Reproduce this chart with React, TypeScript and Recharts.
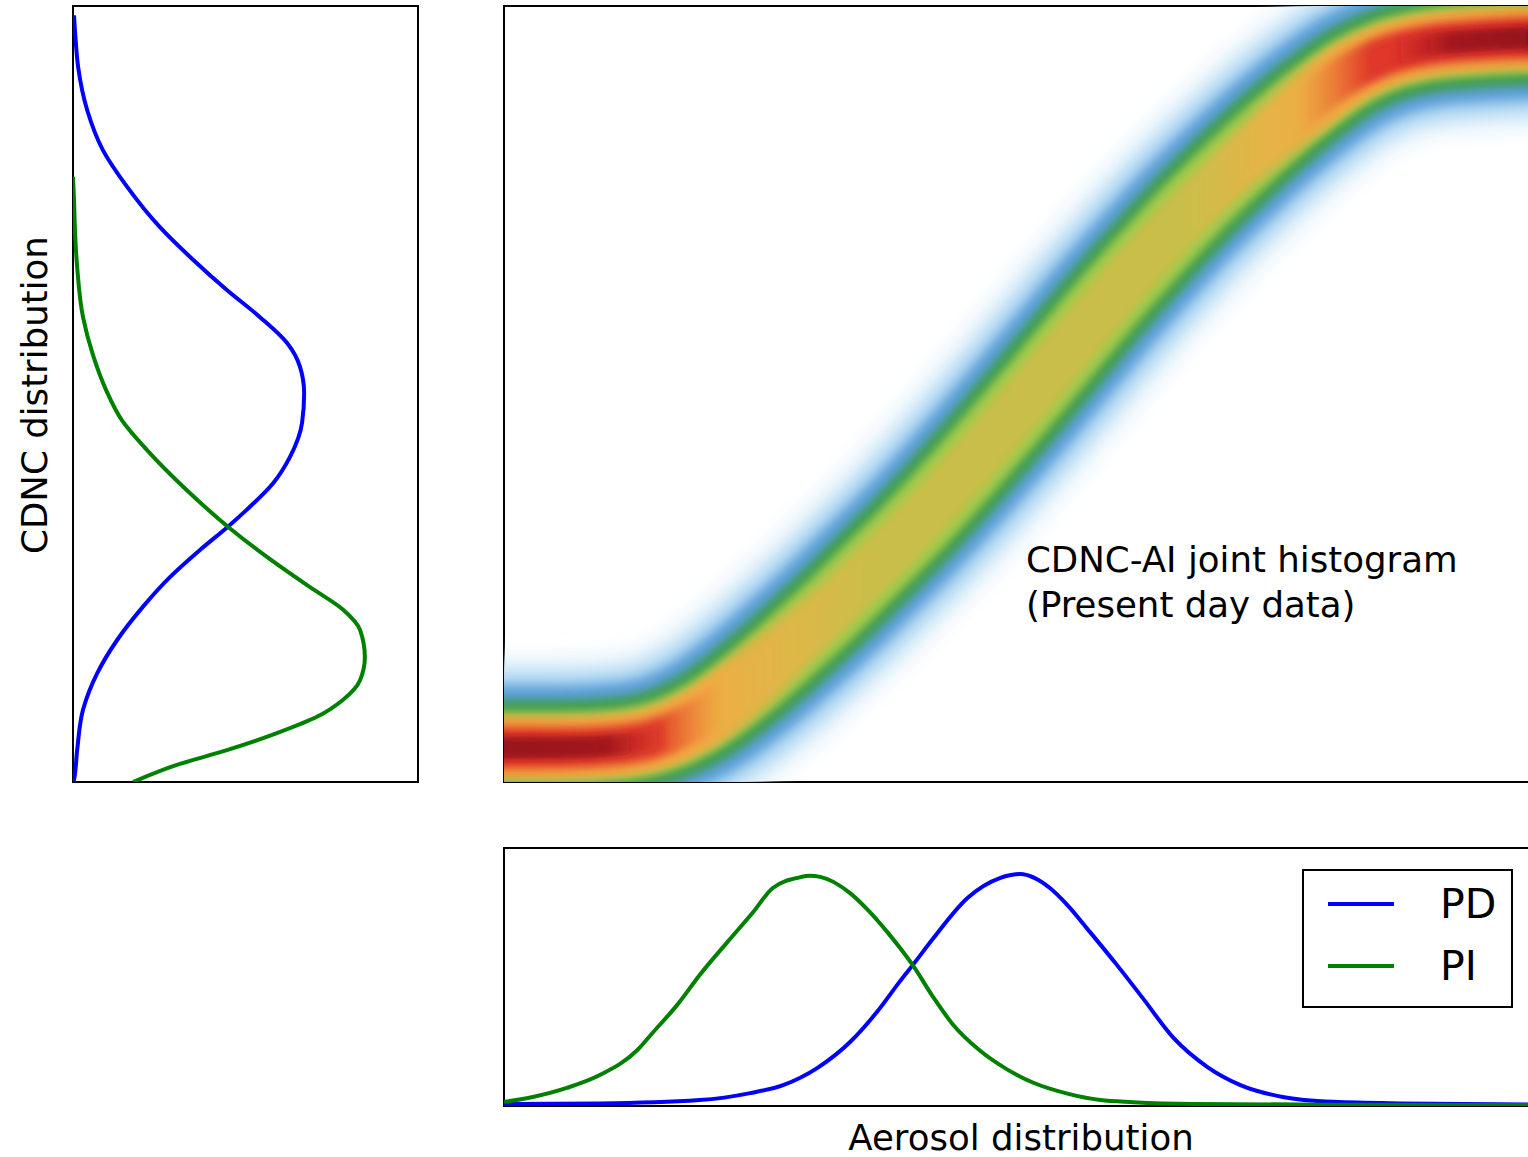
import React from 'react';
import {
  ComposedChart,
  Line,
  XAxis,
  YAxis,
  ReferenceArea,
  ScatterChart,
  Scatter,
  Legend,
} from 'recharts';

// ---------- CDNC marginal distributions (left panel) ----------
const pdCdnc = [98.8, 96, 92.1, 86.6, 81.4, 76.7, 71.5, 67.3, 63.4, 59.9, 56.6, 53.5, 50.1, 46.3, 41.9, 38.5, 35.1, 32.9, 29.9, 26.4, 22.6, 18.3, 14.0, 9.3, 4.1, 0.3, 0];
const pdCdncDensity = [0.3, 0.7, 1.5, 4.1, 8.7, 15.7, 25.2, 34.8, 44.6, 54.2, 62.0, 65.8, 67.0, 66.4, 62.9, 58.0, 50.4, 44.9, 36.8, 28.1, 20.3, 12.8, 7.0, 2.9, 1.2, 0.3, 0];
const piCdnc = [78, 75, 70.7, 66.4, 59.9, 55.0, 50.5, 46.6, 42.8, 37.6, 32.9, 29.0, 25.1, 22.2, 19.6, 16.1, 13.1, 10.6, 8.4, 6.3, 4.1, 2.2, 0];
const piCdncDensity = [0, 0.3, 0.6, 1.2, 2.9, 5.8, 9.6, 14.2, 21.4, 33.0, 44.9, 56.2, 68.7, 78.3, 83.2, 84.6, 83.2, 78.3, 70.7, 59.1, 44.6, 30.1, 17.4];

// ---------- Aerosol marginal distributions (bottom panel) ----------
const pdAerosol = [0, 9.3, 19.0, 23.9, 27.1, 30.4, 33.6, 36.2, 38.4, 39.7, 41.7, 45.0, 48.2, 50.1, 53.0, 54.7, 56.9, 59.5, 62.0, 65.0, 68.3, 71.5, 75.6, 80.5, 87.0, 104];
const pdAerosolDensity = [0.8, 1.0, 2.3, 5.0, 8.1, 14.7, 24.8, 36.4, 48.1, 54.7, 65.1, 80.6, 88.4, 89.9, 84.5, 77.9, 67.4, 54.7, 41.9, 26.4, 15.1, 8.1, 3.5, 1.6, 1.0, 0.5];
const piAerosol = [0, 2.8, 6.1, 9.3, 12.9, 14.5, 16.8, 19.0, 21.7, 24.2, 26.1, 28.7, 29.7, 30.7, 33.6, 35.2, 37.2, 38.4, 39.7, 41.7, 43.6, 46.2, 48.8, 51.4, 54.7, 57.9, 61.1, 67, 80, 104];
const piAerosolDensity = [1.6, 3.5, 7.0, 12.0, 21.5, 28.7, 39.1, 50.8, 63.6, 75.2, 84.5, 88.6, 89.2, 88.8, 82.5, 76.5, 67.5, 61.5, 54.5, 42.0, 31.5, 21.5, 14.3, 9.0, 4.8, 2.3, 1.5, 0.8, 0.5, 0.4];

// ---------- Joint histogram ridge (main panel) ----------
const heatAerosol = [-8, 0, 5.4, 11.3, 16.1, 20.0, 23.9, 27.8, 31.7, 35.5, 39.4, 43.3, 47.2, 51.1, 55.0, 58.8, 62.7, 66.6, 70.5, 74.4, 78.3, 82.1, 86.0, 89.9, 94.8, 100.6, 108];
const heatCdncPeak = [4.4, 4.4, 4.4, 4.8, 6.3, 9.0, 12.9, 17.4, 22.2, 27.2, 32.4, 38.0, 43.9, 50.0, 56.2, 62.2, 68.0, 73.6, 78.7, 83.5, 87.8, 91.4, 93.8, 95.0, 95.6, 95.9, 95.9];

// ---------- Labels ----------
const seriesNames = ['PD', 'PI'];
const seriesColors = ['#0000ff', '#008000'];
const annotationLines = ['CDNC-AI joint histogram', '(Present day data)'];
const yTitle = 'CDNC distribution';
const xTitle = 'Aerosol distribution';

const FONT = '"DejaVu Sans", Verdana, sans-serif';

const zip = (xs: number[], ys: number[]) => xs.map((x, i) => ({ x, y: ys[i] }));
const leftPD = zip(pdCdncDensity, pdCdnc);
const leftPI = zip(piCdncDensity, piCdnc);
const bottomPD = zip(pdAerosol, pdAerosolDensity);
const bottomPI = zip(piAerosol, piAerosolDensity);
const heatData = heatAerosol.map((a, i) => ({ a, c: heatCdncPeak[i] }));

// colour layers of the histogram ridge, outermost first
const bandLayers = [
  { w: 182, stroke: '#e4f2fb', blur: 'hb10' },
  { w: 152, stroke: '#acd6f1', blur: 'hb8' },
  { w: 124, stroke: '#5a9ed8', blur: 'hb6' },
  { w: 96, stroke: '#3f9d4f', blur: 'hb5' },
  { w: 72, stroke: '#9fca4b', blur: 'hb4' },
  { w: 62, stroke: 'url(#endOrangeGrad)', blur: 'hb4' },
  { w: 50, stroke: 'url(#coreGrad)', blur: 'hb4' },
  { w: 40, stroke: 'url(#redGrad)', blur: 'hb4' },
  { w: 22, stroke: 'url(#darkGrad)', blur: 'hb3' },
];

const NoDot = () => null;

const renderLegend = (props: any) => {
  const payload = props && props.payload && props.payload.length ? props.payload : [];
  const items = seriesNames.map((n, i) => {
    const p = payload.find((e: any) => e.value === n);
    return { name: n, color: (p && p.color) || seriesColors[i] };
  });
  return (
    <svg width={211} height={139} style={{ display: 'block' }}>
      <rect x={1} y={1} width={209} height={137} fill="#fff" stroke="#000" strokeWidth={2} />
      {items.map((it, i) => (
        <g key={it.name}>
          <line x1={26} x2={92} y1={35 + i * 62} y2={35 + i * 62} stroke={it.color} strokeWidth={4} />
          <text x={138} y={49 + i * 62} fontSize={41} fontFamily={FONT} fill="#000">
            {it.name}
          </text>
        </g>
      ))}
    </svg>
  );
};

export default function App() {
  const css = bandLayers
    .map((l, i) => `.hm-${i} .recharts-line-curve{filter:url(#${l.blur});}`)
    .join('\n');
  return (
    <div
      style={{
        position: 'fixed',
        left: 0,
        top: 0,
        width: 1528,
        height: 1157,
        overflow: 'hidden',
        background: '#fff',
      }}
    >
      <style>{css}</style>
      <svg width={0} height={0} style={{ position: 'absolute', left: 0, top: 0 }}>
        <defs>
          <linearGradient id="endOrangeGrad" gradientUnits="userSpaceOnUse" x1={504} y1={0} x2={1534} y2={0}>
            <stop offset={0} stopColor="#f0a23e" stopOpacity={1} />
            <stop offset={0.2} stopColor="#f2aa42" stopOpacity={1} />
            <stop offset={0.3} stopColor="#f2aa42" stopOpacity={0} />
            <stop offset={0.72} stopColor="#f2aa42" stopOpacity={0} />
            <stop offset={0.8} stopColor="#f2aa42" stopOpacity={1} />
            <stop offset={1} stopColor="#f0a23e" stopOpacity={1} />
          </linearGradient>
          <linearGradient id="coreGrad" gradientUnits="userSpaceOnUse" x1={504} y1={0} x2={1534} y2={0}>
            <stop offset={0} stopColor="#ef9a3c" />
            <stop offset={0.18} stopColor="#f3aa44" />
            <stop offset={0.28} stopColor="#deb747" />
            <stop offset={0.36} stopColor="#c9be4a" />
            <stop offset={0.66} stopColor="#c9be4a" />
            <stop offset={0.74} stopColor="#e6b346" />
            <stop offset={0.82} stopColor="#f3a842" />
            <stop offset={1} stopColor="#ef9a3c" />
          </linearGradient>
          <linearGradient id="redGrad" gradientUnits="userSpaceOnUse" x1={504} y1={0} x2={1534} y2={0}>
            <stop offset={0} stopColor="#df3327" stopOpacity={1} />
            <stop offset={0.15} stopColor="#e2412a" stopOpacity={1} />
            <stop offset={0.21} stopColor="#ea6a30" stopOpacity={0} />
            <stop offset={0.77} stopColor="#ea6a30" stopOpacity={0} />
            <stop offset={0.84} stopColor="#e0392a" stopOpacity={1} />
            <stop offset={1} stopColor="#d62a28" stopOpacity={1} />
          </linearGradient>
          <linearGradient id="darkGrad" gradientUnits="userSpaceOnUse" x1={504} y1={0} x2={1534} y2={0}>
            <stop offset={0} stopColor="#97121a" stopOpacity={1} />
            <stop offset={0.1} stopColor="#a3161c" stopOpacity={1} />
            <stop offset={0.16} stopColor="#c01c20" stopOpacity={0} />
            <stop offset={0.86} stopColor="#c01c20" stopOpacity={0} />
            <stop offset={0.92} stopColor="#a3161c" stopOpacity={1} />
            <stop offset={1} stopColor="#93111a" stopOpacity={1} />
          </linearGradient>
          {[3, 4, 5, 6, 8, 10].map((s) => (
            <filter key={s} id={`hb${s}`} filterUnits="userSpaceOnUse" x={-400} y={-400} width={2600} height={1800}>
              <feGaussianBlur stdDeviation={s} />
            </filter>
          ))}
        </defs>
      </svg>

      {/* Left panel: CDNC distribution */}
      <div style={{ position: 'absolute', left: 0, top: 0 }}>
        <ScatterChart width={430} height={790} margin={{ top: 6, right: 12, bottom: 8, left: 73 }}>
          <XAxis type="number" dataKey="x" domain={[0, 100]} allowDataOverflow hide />
          <YAxis type="number" dataKey="y" domain={[0, 100]} allowDataOverflow hide />
          <Scatter
            name={seriesNames[0]}
            data={leftPD}
            fill={seriesColors[0]}
            line={{ stroke: seriesColors[0], strokeWidth: 4 }}
            lineType="joint"
            lineJointType="monotoneY"
            shape={NoDot}
            isAnimationActive={false}
          />
          <Scatter
            name={seriesNames[1]}
            data={leftPI}
            fill={seriesColors[1]}
            line={{ stroke: seriesColors[1], strokeWidth: 4 }}
            lineType="joint"
            lineJointType="monotoneY"
            shape={NoDot}
            isAnimationActive={false}
          />
          <ReferenceArea x1={0} x2={100} y1={0} y2={100} fill="none" stroke="#000" strokeWidth={2} ifOverflow="visible" />
        </ScatterChart>
      </div>

      {/* Main panel: joint histogram */}
      <div style={{ position: 'absolute', left: 0, top: 0 }}>
        <ComposedChart width={1560} height={790} data={heatData} margin={{ top: 6, right: 26, bottom: 8, left: 504 }}>
          <XAxis type="number" dataKey="a" domain={[0, 100]} allowDataOverflow hide />
          <YAxis type="number" domain={[0, 100]} allowDataOverflow hide />
          {bandLayers.map((l, i) => (
            <Line
              key={i}
              className={`hm-${i}`}
              dataKey="c"
              type="monotone"
              stroke={l.stroke}
              strokeWidth={l.w}
              dot={false}
              activeDot={false}
              legendType="none"
              isAnimationActive={false}
            />
          ))}
          <ReferenceArea x1={0} x2={100} y1={0} y2={100} fill="none" stroke="#000" strokeWidth={2} ifOverflow="visible" />
        </ComposedChart>
      </div>

      {/* Bottom panel: aerosol distribution */}
      <div style={{ position: 'absolute', left: 0, top: 840 }}>
        <ScatterChart width={1560} height={317} margin={{ top: 8, right: 26, bottom: 51, left: 504 }}>
          <XAxis type="number" dataKey="x" domain={[0, 100]} allowDataOverflow hide />
          <YAxis type="number" dataKey="y" domain={[0, 100]} allowDataOverflow hide />
          <Scatter
            name={seriesNames[0]}
            data={bottomPD}
            fill={seriesColors[0]}
            line={{ stroke: seriesColors[0], strokeWidth: 4 }}
            lineType="joint"
            lineJointType="monotoneX"
            shape={NoDot}
            isAnimationActive={false}
          />
          <Scatter
            name={seriesNames[1]}
            data={bottomPI}
            fill={seriesColors[1]}
            line={{ stroke: seriesColors[1], strokeWidth: 4 }}
            lineType="joint"
            lineJointType="monotoneX"
            shape={NoDot}
            isAnimationActive={false}
          />
          <ReferenceArea x1={0} x2={100} y1={0} y2={100} fill="none" stroke="#000" strokeWidth={2} ifOverflow="visible" />
          <Legend
            layout="horizontal"
            verticalAlign="middle"
            align="center"
            content={renderLegend}
            wrapperStyle={{ position: 'absolute', left: 1302, top: 29, width: 211, height: 139, margin: 0, padding: 0 }}
          />
        </ScatterChart>
      </div>

      {/* Text overlay */}
      <svg
        width={1528}
        height={1157}
        style={{ position: 'absolute', left: 0, top: 0, pointerEvents: 'none' }}
      >
        <text
          transform="translate(47,395) rotate(-90)"
          textAnchor="middle"
          fontSize={35.6}
          fontFamily={FONT}
          fill="#000"
        >
          {yTitle}
        </text>
        {annotationLines.map((t, i) => (
          <text key={i} x={1026} y={572 + i * 45} fontSize={35.6} fontFamily={FONT} fill="#000">
            {t}
          </text>
        ))}
        <text x={1021} y={1150} textAnchor="middle" fontSize={35.6} fontFamily={FONT} fill="#000">
          {xTitle}
        </text>
      </svg>
    </div>
  );
}
